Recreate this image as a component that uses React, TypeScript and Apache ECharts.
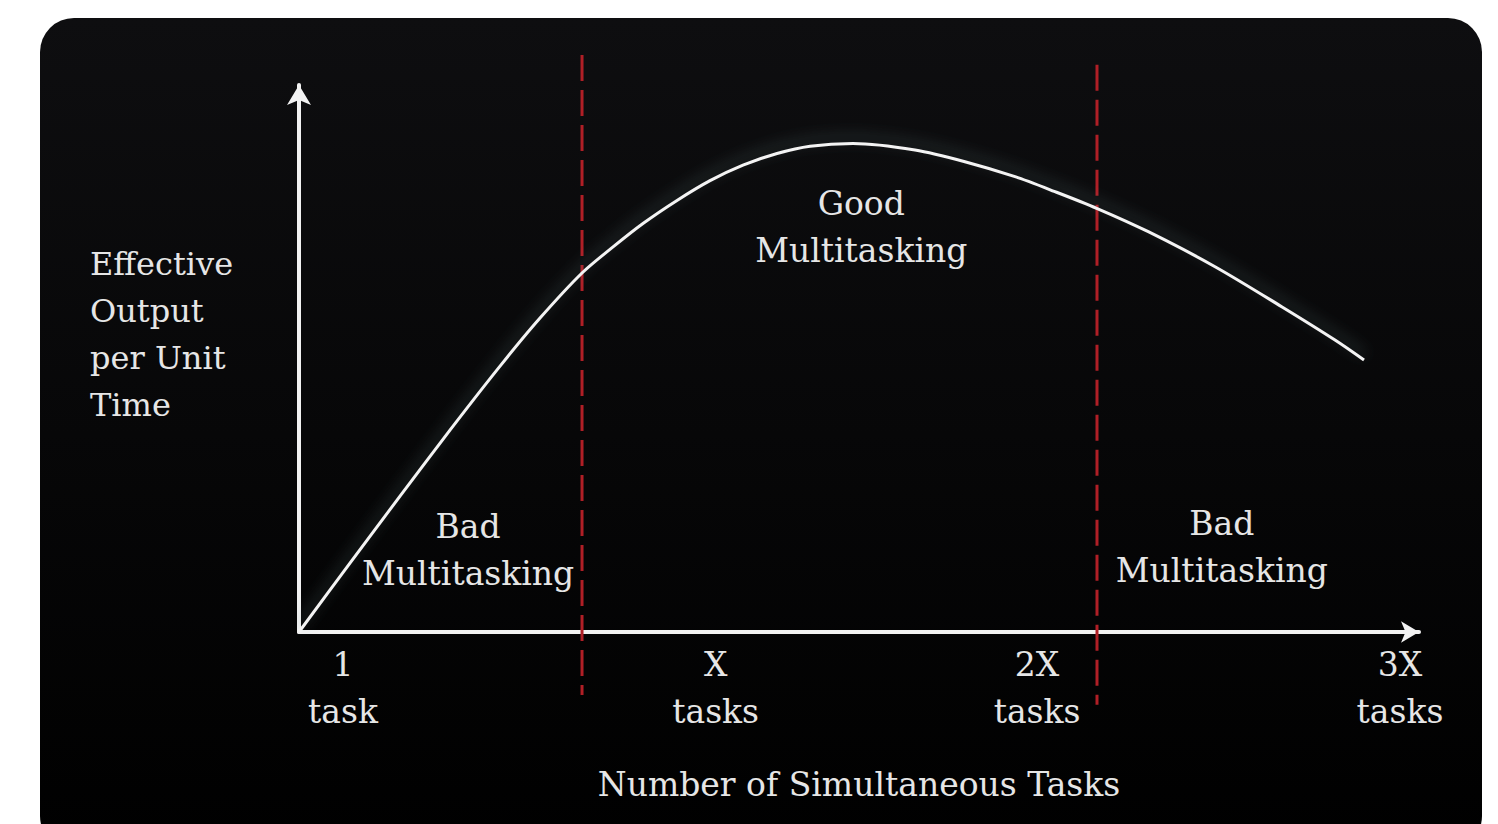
import React, { useEffect, useRef } from "react";
import * as echarts from "echarts";

// Curve: effective output vs number of simultaneous tasks (x: 0..100, y: 0..100)
const curveX = [0, 4.55, 9.02, 13.48, 17.95, 21.52, 25.27, 28.04, 30.71, 33.75, 36.7, 39.64, 42.68, 45.63, 49.46, 55.0, 59.46, 63.93, 67.5, 71.22, 75.83, 81.79, 87.74, 92.5, 95.09];
const curveY = [0, 12.6, 24.84, 36.91, 48.61, 57.39, 65.63, 70.4, 74.68, 78.9, 82.52, 85.36, 87.48, 88.81, 89.31, 88.12, 85.98, 83.24, 80.5, 77.46, 73.18, 66.78, 59.47, 53.38, 49.73];

// Tick labels on the x axis
const tickValues = [3.93, 37.2, 65.9, 98.3];
const tickLabels = ["1\ntask", "X\ntasks", "2X\ntasks", "3X\ntasks"];

// Region dividers (red dashed)
const dividerX = [25.27, 71.25];
const dividerTop = [105.5, 103.7];
const dividerBottom = [-11.5, -13.3];

// Region annotations
const regionNames = ["Bad\nMultitasking", "Good\nMultitasking", "Bad\nMultitasking"];
const regionX = [15.1, 50.2, 82.4];
const regionY = [15.0, 74.1, 15.6];

const xAxisName = "Number of Simultaneous Tasks";
const yAxisName = "Effective\nOutput\nper Unit\nTime";

const FONT = "DejaVu Serif";
const TEXT = "#e6e6e6";

export default function App() {
  const ref = useRef<HTMLDivElement>(null);
  useEffect(() => {
    if (!ref.current) return;
    const chart = echarts.init(ref.current, null, { renderer: "svg" });
    const dividerSeries = dividerX.map((x, i) => ({
      type: "line",
      name: "divider" + i,
      data: [
        [x, dividerTop[i]],
        [x, dividerBottom[i]],
      ],
      clip: false,
      symbol: "none",
      silent: true,
      z: 3,
      lineStyle: { color: "#b01f26", width: 3, type: [26, 9] },
    }));
    chart.setOption({
      animation: false,
      backgroundColor: "#ffffff",
      graphic: [
        {
          type: "rect",
          z: -10,
          silent: true,
          shape: { x: 40, y: 18, width: 1442, height: 832, r: 34 },
          style: {
            fill: new echarts.graphic.LinearGradient(0, 0, 0, 1, [
              { offset: 0, color: "#0e0e10" },
              { offset: 1, color: "#000000" },
            ]),
          },
        },
        {
          type: "text",
          left: 90,
          top: 240,
          silent: true,
          style: {
            text: yAxisName,
            fill: TEXT,
            font: `32px "${FONT}"`,
            lineHeight: 47,
            align: "left",
          },
        },
      ],
      grid: { left: 299, right: 79, top: 85, bottom: 192, containLabel: false },
      xAxis: {
        type: "value",
        min: 0,
        max: 100,
        splitLine: { show: false },
        axisTick: { show: false },
        axisLine: {
          show: true,
          onZero: false,
          symbol: ["none", "arrow"],
          symbolSize: [16, 18],
          lineStyle: { color: "#f2f2f2", width: 4 },
        },
        axisLabel: {
          customValues: tickValues,
          formatter: (v: number) => {
            const i = tickValues.findIndex((t) => Math.abs(t - v) < 0.01);
            return i >= 0 ? tickLabels[i] : "";
          },
          color: TEXT,
          fontFamily: FONT,
          fontSize: 33,
          lineHeight: 47,
          margin: 9,
          showMinLabel: true,
          showMaxLabel: true,
        },
        name: xAxisName,
        nameLocation: "middle",
        nameGap: 136,
        nameTextStyle: { color: TEXT, fontFamily: FONT, fontSize: 33 },
      },
      yAxis: {
        type: "value",
        min: 0,
        max: 100,
        splitLine: { show: false },
        axisTick: { show: false },
        axisLabel: { show: false },
        axisLine: {
          show: true,
          onZero: false,
          symbol: ["none", "arrow"],
          symbolSize: [18, 20],
          lineStyle: { color: "#f2f2f2", width: 4 },
        },
      },
      series: [
        {
          type: "line",
          name: "output",
          data: curveX.map((x, i) => [x, curveY[i]]),
          smooth: 0.3,
          symbol: "none",
          clip: false,
          z: 5,
          lineStyle: {
            color: "#f4f4f4",
            width: 3,
            shadowColor: "rgba(110,145,145,0.5)",
            shadowBlur: 14,
            shadowOffsetY: -6,
          },
        },
        ...dividerSeries,
        {
          type: "scatter",
          name: "regions",
          symbolSize: 1,
          itemStyle: { color: "rgba(0,0,0,0)" },
          silent: true,
          data: regionNames.map((n, i) => ({ name: n, value: [regionX[i], regionY[i]] })),
          label: {
            show: true,
            position: "inside",
            formatter: "{b}",
            color: TEXT,
            textBorderWidth: 0,
            textBorderColor: "transparent",
            opacity: 1,
            fontFamily: FONT,
            fontSize: 33,
            lineHeight: 47,
            align: "center",
            verticalAlign: "middle",
          },
          z: 6,
        },
      ],
    });
    return () => chart.dispose();
  }, []);
  return (
    <div
      ref={ref}
      style={{ position: "fixed", left: 0, top: 0, width: 1498, height: 824 }}
    />
  );
}
